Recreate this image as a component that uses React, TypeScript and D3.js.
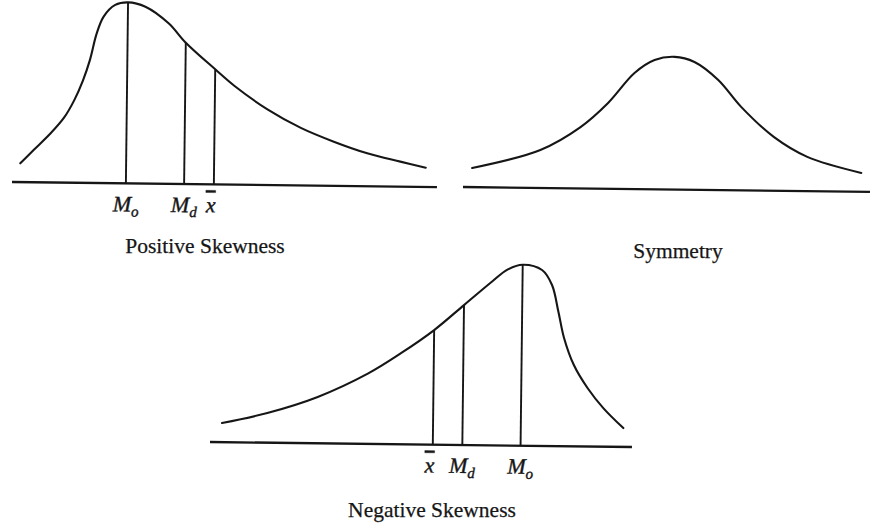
import React, { useEffect, useRef } from 'react';
import * as d3 from 'd3';

// curve readings: x in % of the baseline length, y relative to the tallest peak
const positiveX = [1.9, 5.0, 8.9, 12.1, 14.4, 16.4, 18.0, 19.5, 21.1, 23.8, 26.8, 30.9, 36.4, 40.5, 47.5, 52.1, 59.9, 67.8, 75.6, 83.5, 91.3, 97.3];
const positiveY = [0.104, 0.178, 0.27, 0.36, 0.455, 0.565, 0.68, 0.825, 0.92, 0.985, 1.0, 0.977, 0.887, 0.781, 0.636, 0.545, 0.418, 0.318, 0.244, 0.182, 0.138, 0.106];

const symmetryX = [2.2, 18.9, 28.7, 35.4, 41.8, 46.7, 51.6, 56.5, 62.4, 68.1, 76.2, 84.5, 97.8];
const symmetryY = [0.106, 0.21, 0.339, 0.474, 0.641, 0.714, 0.733, 0.706, 0.608, 0.461, 0.297, 0.189, 0.104];

const negativeX = [2.8, 13.5, 25.4, 37.2, 45.0, 52.8, 59.8, 66.4, 70.0, 73.6, 78.2, 80.6, 82.2, 83.6, 86.0, 89.3, 93.1, 97.9];
const negativeY = [0.106, 0.164, 0.256, 0.388, 0.503, 0.633, 0.773, 0.905, 0.972, 1.0, 0.972, 0.89, 0.741, 0.598, 0.449, 0.323, 0.213, 0.104];

// markers (mode, median, mean) sit on curve points
const positiveMarkers = [26.8, 40.5, 47.5];
const positiveLabels = ['Mo', 'Md', 'mean'];
const negativeMarkers = [52.8, 59.8, 73.6];
const negativeLabels = ['mean', 'Md', 'Mo'];

const titles = ['Positive Skewness', 'Symmetry', 'Negative Skewness'];

const W = 879;
const H = 528;
const INK = '#161616';
const FONT = '"Liberation Serif", "DejaVu Serif", serif';
const TILT = 0.68; // the scan is turned slightly clockwise

const App: React.FC = () => {
  const svgRef = useRef<SVGSVGElement | null>(null);

  useEffect(() => {
    if (!svgRef.current) return;
    const svg = d3.select(svgRef.current);
    svg.selectAll('*').remove();

    const panels = [
      { xs: positiveX, ys: positiveY, markers: positiveMarkers, labels: positiveLabels, left: 12, right: 437, base: 182, top: 1, title: titles[0], tx: 205, ty: 253 },
      { xs: symmetryX, ys: symmetryY, markers: [], labels: [], left: 463, right: 870, base: 187, top: 6, title: titles[1], tx: 678, ty: 258 },
      { xs: negativeX, ys: negativeY, markers: negativeMarkers, labels: negativeLabels, left: 210, right: 632, base: 442, top: 261, title: titles[2], tx: 432, ty: 517 },
    ];

    panels.forEach((p) => {
      const x = d3.scaleLinear().domain([0, 100]).range([p.left, p.right]);
      const y = d3.scaleLinear().domain([0, 1]).range([p.base, p.top]);

      const g = svg.append('g').attr('transform', `rotate(${TILT},${p.left},${p.base})`);

      // baseline
      g.append('line')
        .attr('x1', x(0)).attr('x2', x(100))
        .attr('y1', y(0)).attr('y2', y(0))
        .attr('stroke', INK).attr('stroke-width', 2.3);

      const pts = p.xs.map((v, i) => [v, p.ys[i]] as [number, number]);
      const line = d3.line<[number, number]>()
        .x((d) => x(d[0]))
        .y((d) => y(d[1]))
        .curve(d3.curveCatmullRom.alpha(0.5));

      g.append('path')
        .attr('d', line(pts))
        .attr('fill', 'none')
        .attr('stroke', INK)
        .attr('stroke-width', 2.1)
        .attr('stroke-linecap', 'round')
        .attr('stroke-linejoin', 'round');

      p.markers.forEach((m, i) => {
        const idx = p.xs.indexOf(m);
        const h = p.ys[idx];
        g.append('line')
          .attr('x1', x(m)).attr('x2', x(m))
          .attr('y1', y(0)).attr('y2', y(h))
          .attr('stroke', INK).attr('stroke-width', 1.9);

        const lab = p.labels[i];
        const t = g.append('text')
          .attr('x', x(m))
          .attr('y', y(0) + 28)
          .attr('text-anchor', 'middle')
          .attr('font-family', FONT)
          .attr('font-style', 'italic')
          .attr('font-size', 22)
          .attr('fill', INK)
          .attr('stroke', INK)
          .attr('stroke-width', 0.4);
        if (lab === 'mean') {
          t.attr('dx', -3)
            .append('tspan')
            .style('text-decoration', 'overline')
            .text('x');
        } else {
          t.append('tspan').text('M');
          t.append('tspan')
            .attr('font-size', 15)
            .attr('dy', 5)
            .text(lab === 'Mo' ? 'o' : 'd');
        }
      });

      svg.append('text')
        .attr('x', p.tx)
        .attr('y', p.ty)
        .attr('text-anchor', 'middle')
        .attr('font-family', FONT)
        .attr('font-size', 21.5)
        .attr('fill', INK)
        .attr('stroke', INK)
        .attr('stroke-width', 0.25)
        .text(p.title);
    });
  }, []);

  return (
    <svg
      ref={svgRef}
      width={W}
      height={H}
      style={{ position: 'absolute', left: 0, top: 0, background: '#fff' }}
    ></svg>
  );
};

export default App;
